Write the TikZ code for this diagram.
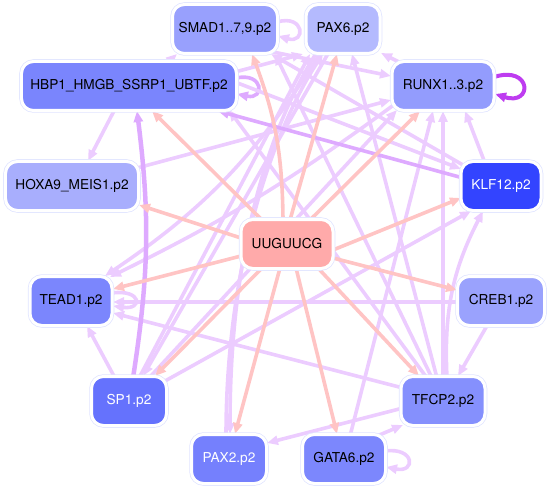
\documentclass[tikz,border=0pt]{standalone}
\usepackage{fontspec}
\setmainfont{TeX Gyre Heros}
\usetikzlibrary{arrows.meta,calc}
\pgfdeclarelayer{bg}
\pgfsetlayers{bg,main}
\definecolor{cSMAD}{RGB}{152,160,253}
\definecolor{cPAX6}{RGB}{180,186,254}
\definecolor{cHBP}{RGB}{122,133,253}
\definecolor{cRUNX}{RGB}{147,156,253}
\definecolor{cHOXA}{RGB}{168,174,253}
\definecolor{cKLF}{RGB}{51,68,255}
\definecolor{cU}{RGB}{255,170,170}
\definecolor{cTEAD}{RGB}{123,134,253}
\definecolor{cCREB}{RGB}{154,162,253}
\definecolor{cSP}{RGB}{101,114,253}
\definecolor{cTFCP}{RGB}{133,144,253}
\definecolor{cPAXt}{RGB}{117,128,253}
\definecolor{cGATA}{RGB}{124,135,253}
\definecolor{pinkE}{RGB}{255,196,196}
\definecolor{lavE}{RGB}{236,204,255}
\definecolor{lavD}{RGB}{222,170,255}
\definecolor{purE}{RGB}{190,60,240}
\definecolor{ringc}{RGB}{224,228,255}
\begin{document}
\begin{tikzpicture}[x=1bp,y=-1bp,
 nd/.style={rounded corners=12bp, minimum height=49bp, inner sep=0pt, draw=white, line width=3bp,
   font=\fontsize{13.7}{16}\selectfont, preaction={draw=ringc, line width=4.5bp}},
 e/.style={draw=lavE, line width=3.6bp, -{Triangle[length=11bp,width=9bp]}},
 ed/.style={e, draw=lavD},
 ep/.style={e, draw=pinkE},
 epur/.style={e, draw=purE, line width=4bp}]
\useasboundingbox (0,0) rectangle (549,489);
\node[nd, fill=cSMAD, minimum width=105bp] (smad) at (225,29) {SMAD1..7,9.p2};
\node[nd, fill=cPAX6, minimum width=74bp] (pax6) at (343,29) {PAX6.p2};
\node[nd, fill=cHBP, minimum width=215bp] (hbp1) at (129,86) {HBP1\_HMGB\_SSRP1\_UBTF.p2};
\node[nd, fill=cRUNX, minimum width=102bp] (runx) at (443,86) {RUNX1..3.p2};
\node[nd, fill=cHOXA, minimum width=133bp] (hoxa) at (72,186) {HOXA9\_MEIS1.p2};
\node[nd, fill=cKLF, minimum width=80bp, text=white] (klf) at (501,186) {KLF12.p2};
\node[nd, fill=cU, minimum width=92bp] (U) at (287,244) {UUGUUCG};
\node[nd, fill=cTEAD, minimum width=82bp] (tead) at (71,301) {TEAD1.p2};
\node[nd, fill=cCREB, minimum width=87bp] (creb) at (501,301) {CREB1.p2};
\node[nd, fill=cSP, minimum width=75bp, text=white] (sp1) at (129,401) {SP1.p2};
\node[nd, fill=cTFCP, minimum width=84bp] (tfcp) at (443,401) {TFCP2.p2};
\node[nd, fill=cPAXt, minimum width=75bp, text=white] (pax2) at (229,459) {PAX2.p2};
\node[nd, fill=cGATA, minimum width=83bp] (gata) at (344,459) {GATA6.p2};
\begin{pgfonlayer}{bg}
% lavender edges
\draw[e] ($(smad)+(52,-7)$) .. controls +(28,-8) and +(28,8) .. ($(smad)+(53,7)$);
\draw[ed] ($(hbp1)+(107,-8)$) .. controls +(28,-6) and +(28,6) .. ($(hbp1)+(108,8)$);
\draw[e] ($(tead)+(41,-8)$) .. controls +(30,-4) and +(30,4) .. ($(tead)+(42,5)$);
\draw[e] ($(gata)+(41,-8)$) .. controls +(30,-4) and +(30,6) .. ($(gata)+(42,8)$);
\draw[e] ($(hbp1)+(38,-23)$) -- ($(smad)+(-48,25)$);
\draw[e] ($(hbp1)+(-14,23)$) -- ($(hoxa)+(16,-25)$);
\draw[e] ($(hbp1)+(106,-14)$) -- ($(pax6)+(-40,25)$);
\draw[e] ($(smad)+(48,23)$) -- ($(runx)+(-52,-10)$);
\draw[e] ($(runx)+(-42,-23)$) -- ($(pax6)+(38,24)$);
\draw[e] ($(klf)+(-16,-23)$) -- ($(runx)+(22,25)$);
\draw[e] ($(klf)+(-38,-21)$) -- ($(smad)+(46,25)$);
\draw[e] ($(hbp1)+(106,-4)$) -- ($(klf)+(-40,-17)$);
\draw[e] ($(hoxa)+(65,-18)$) -- ($(runx)+(-52,14)$);
\draw[e] ($(sp1)+(-14,-23)$) -- ($(tead)+(16,25)$);
\draw[e] ($(sp1)+(36,-20)$) -- ($(klf)+(-30,25)$);
\draw[e] ($(sp1)+(10,-23)$) -- ($(pax6)+(-33,25)$);
\draw[e] ($(pax6)+(-22,23)$) to[bend left=12] ($(tead)+(34,-25)$);
\draw[e] ($(runx)+(-48,18)$) to[bend left=5] ($(tead)+(39,-24)$);
\draw[e] ($(pax6)+(-14,23)$) -- ($(sp1)+(14,-25)$);
\draw[e] ($(sp1)+(20,-23)$) -- ($(runx)+(-46,24)$);
\draw[e] ($(pax2)+(-3,-23)$) .. controls +(0,-190) and +(-40,60) .. ($(pax6)+(-20,25)$);
\draw[e] ($(pax6)+(-26,23)$) .. controls +(-45,70) and +(0,-190) .. ($(pax2)+(1,-25)$);
\draw[e] ($(tfcp)+(0,-23)$) -- ($(runx)+(0,25)$);
\draw[e] ($(tfcp)+(4,-23)$) to[bend left=15] ($(klf)+(-18,25)$);
\draw[e] ($(tfcp)+(-6,-23)$) -- ($(pax6)+(9,25)$);
\draw[e] ($(tfcp)+(-11,-23)$) -- ($(smad)+(50,25)$);
\draw[e] ($(tfcp)+(-16,-23)$) -- ($(hbp1)+(100,24)$);
\draw[e] ($(tfcp)+(-40,-13)$) -- ($(tead)+(42,12)$);
\draw[e] ($(tfcp)+(-40,7)$) -- ($(pax2)+(38,-16)$);
\draw[e] ($(creb)+(-42,1)$) -- ($(tead)+(42,1)$);
\draw[e] ($(creb)+(-13,23)$) -- ($(tfcp)+(15,-25)$);
\draw[e] ($(gata)+(33,-23)$) -- ($(tfcp)+(-40,24)$);
\draw[e] ($(gata)+(6,-23)$) -- ($(runx)+(-10,25)$);
% darker edges
\draw[ed] ($(klf)+(-38,-8)$) -- ($(hbp1)+(89,25)$);
\draw[ed, line width=4.5bp] ($(sp1)+(4,-23)$) to[bend right=8] ($(hbp1)+(8,25)$);
\draw[epur] ($(runx)+(51,-9)$) .. controls +(38,-12) and +(38,12) .. ($(runx)+(52,8)$);
% pink edges
\draw[ep] ($(U)+(-46,-6)$) -- ($(hoxa)+(67,19)$);
\draw[ep] ($(U)+(-25,-24)$) -- ($(hbp1)+(23,25)$);
\draw[ep] ($(U)+(-4,-24)$) to[bend right=10] ($(smad)+(27,25)$);
\draw[ep] ($(U)+(3,-24)$) -- ($(pax6)+(-6,25)$);
\draw[ep] ($(U)+(23,-24)$) -- ($(runx)+(-23,25)$);
\draw[ep] ($(U)+(46,6)$) -- ($(klf)+(-40,12)$);
\draw[ep] ($(U)+(46,14)$) -- ($(creb)+(-44,-11)$);
\draw[ep] ($(U)+(31,24)$) -- ($(tfcp)+(-24,-25)$);
\draw[ep] ($(U)+(9,24)$) -- ($(gata)+(-7,-25)$);
\draw[ep] ($(U)+(-7,24)$) -- ($(pax2)+(6,-25)$);
\draw[ep] ($(U)+(-25,24)$) -- ($(sp1)+(26,-25)$);
\draw[ep] ($(U)+(-46,12)$) -- ($(tead)+(42,-12)$);
\end{pgfonlayer}
\end{tikzpicture}
\end{document}
